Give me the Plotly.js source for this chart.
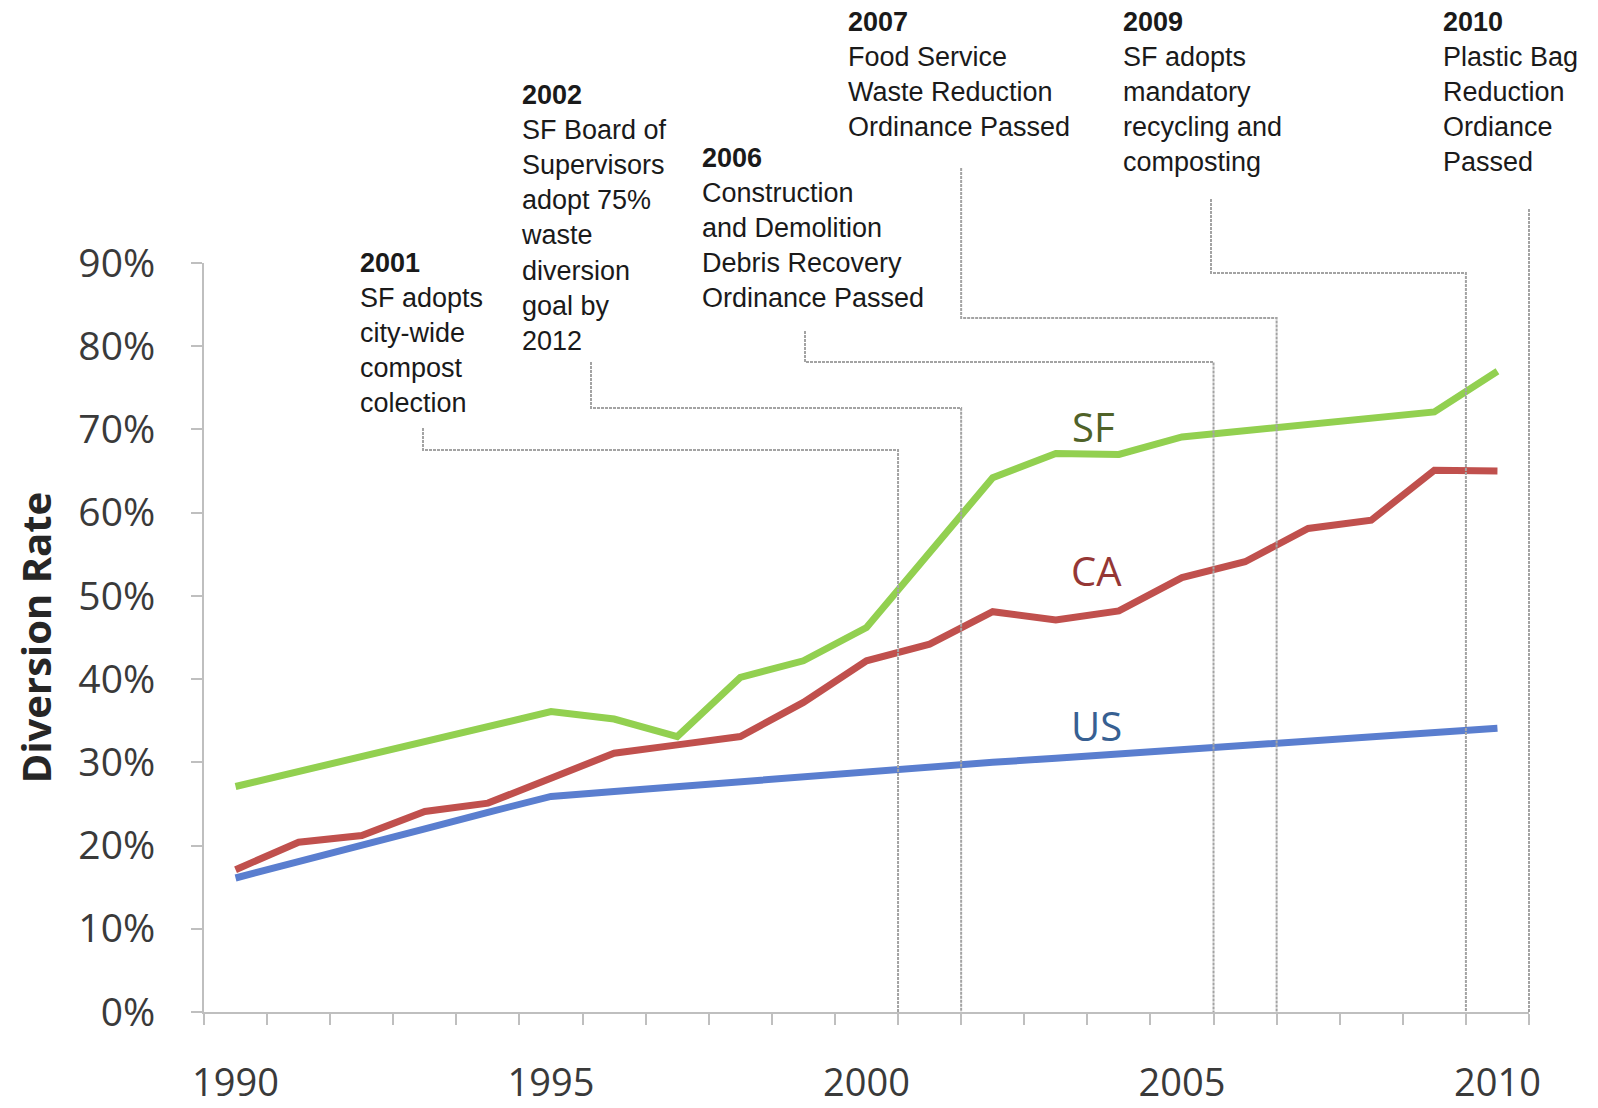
<!DOCTYPE html>
<html><head><meta charset="utf-8">
<script src="https://cdn.plot.ly/plotly-3.0.1.min.js"></script>
<style>html,body{margin:0;padding:0;background:#fff;}#chart{width:1598px;height:1108px;}</style>
</head><body><div id="chart"></div>
<script>
// ---- data ----
const years = [1990,1991,1992,1993,1994,1995,1996,1997,1998,1999,2000,2001,2002,2003,2004,2005,2006,2007,2008,2009,2010];
const sfRate = [27.1,28.9,30.7,32.5,34.3,36.1,35.2,33.1,40.2,42.2,46.2,55.1,64.2,67.1,67.0,69.1,69.9,70.5,71.3,72.1,77.0];
const caRate = [17.1,20.4,21.2,24.1,25.1,28.1,31.1,32.1,33.1,37.2,42.2,44.2,48.1,47.1,48.2,52.2,54.1,58.1,59.1,65.1,65.0];
const usRate = [16.1,18.0,20.0,22.0,24.0,25.9,26.5,27.1,27.7,28.3,29.0,29.5,30.0,30.5,31.0,31.6,32.2,32.7,33.2,33.7,34.1];
const seriesNames = ['SF','CA','US'];
const xTickLabels = ['1990','1995','2000','2005','2010'];
const xTickYears = [1990,1995,2000,2005,2010];
const eventYears = ['2001','2002','2006','2007','2009','2010'];
const eventTexts = [
  'SF adopts<br>city-wide<br>compost<br>colection',
  'SF Board of<br>Supervisors<br>adopt 75%<br>waste<br>diversion<br>goal by<br>2012',
  'Construction<br>and Demolition<br>Debris Recovery<br>Ordinance Passed',
  'Food Service<br>Waste Reduction<br>Ordinance Passed',
  'SF adopts<br>mandatory<br>recycling and<br>composting',
  'Plastic Bag<br>Reduction<br>Ordiance<br>Passed'
];
// year boundary where each event's leader line meets the axis
const eventBoundary = [2000.5, 2001.5, 2005.5, 2006.5, 2009.5, 2010.5];

// ---- layout geometry (pixels) ----
const W = 1598, H = 1108;
const M = {l: 204, r: W - 1529, t: 263, b: H - 1012};
const plotW = W - M.l - M.r, plotH = H - M.t - M.b;
const X0 = 1989.5, X1 = 2010.5;
const px2x = px => (px - M.l) / plotW;
const py2y = py => (H - M.b - py) / plotH;
const yr2x = yr => (yr - X0) / (X1 - X0);

// text block positions: [left px, top px]
const textPos = [[358, 246], [519, 78], [700, 141], [846, 5], [1121, 5], [1441, 5]];
// leader lines: start x (px, or yr = year boundary), start y px, elbow y px
const leaders = [
  {x: 423, y0: 428, y1: 450},
  {x: 591, y0: 362, y1: 408},
  {x: 805, y0: 331, y1: 362},
  {yr: 2001.5, y0: 168, y1: 318},
  {x: 1211, y0: 199, y1: 273},
  {yr: 2010.5, y0: 209, y1: null}
];

const lineColors = ['#92d050', '#c0504d', '#5a7ecf'];
const labelColors = ['#4f6228', '#953735', '#376092'];
const seriesVals = [sfRate, caRate, usRate];

const traces = seriesNames.map((n, i) => ({
  x: years, y: seriesVals[i], name: n, type: 'scatter', mode: 'lines',
  line: {color: lineColors[i], width: 7}, hoverinfo: 'x+y+name'
}));

const annotations = [];
eventYears.forEach((yr, i) => {
  annotations.push({
    xref: 'paper', yref: 'paper', x: px2x(textPos[i][0]), y: py2y(textPos[i][1]),
    xanchor: 'left', yanchor: 'top', align: 'left', showarrow: false,
    text: '<b>' + yr + '</b><br>' + eventTexts[i],
    font: {family: 'Liberation Sans, Arial, sans-serif', size: 27, color: '#1a1a1a'}
  });
});
// series labels
const labelPos = [[2003.6, 70.4], [2003.65, 53.0], [2003.65, 34.4]];
seriesNames.forEach((n, i) => {
  annotations.push({
    xref: 'x', yref: 'y', x: labelPos[i][0], y: labelPos[i][1], showarrow: false,
    text: n, font: {family: 'Open Sans, sans-serif', size: 40, color: labelColors[i]}
  });
});

const shapes = leaders.map((ld, i) => {
  const bx = yr2x(eventBoundary[i]);
  const sx = (ld.yr !== undefined) ? yr2x(ld.yr) : px2x(ld.x);
  let path;
  if (ld.y1 === null) {
    path = `M ${bx},${py2y(ld.y0)} L ${bx},0`;
  } else {
    path = `M ${sx},${py2y(ld.y0)} L ${sx},${py2y(ld.y1)} L ${bx},${py2y(ld.y1)} L ${bx},0`;
  }
  return {type: 'path', xref: 'paper', yref: 'paper', path: path, layer: 'above',
          line: {color: '#a3a3a3', width: 2, dash: '3px,1px'}};
});

const layout = {
  width: W, height: H, margin: M, showlegend: false,
  paper_bgcolor: '#ffffff', plot_bgcolor: '#ffffff',
  font: {family: 'Open Sans, sans-serif', color: '#404040'},
  xaxis: {
    range: [X0, X1], tickvals: xTickYears, ticktext: xTickLabels, ticks: '',
    showgrid: false, zeroline: false, showline: true, linecolor: '#bfbfbf', linewidth: 2,
    tickfont: {size: 38, color: '#3a3a3a'}, ticklabelstandoff: 36,
    minor: {tick0: 1989.5, dtick: 1, ticks: 'outside', ticklen: 11, tickwidth: 2, tickcolor: '#bfbfbf', showgrid: false}
  },
  yaxis: {
    range: [0, 90], dtick: 10, ticksuffix: '%', ticks: 'outside', ticklen: 11, tickwidth: 2,
    tickcolor: '#bfbfbf', showgrid: false, zeroline: false, showline: true,
    linecolor: '#bfbfbf', linewidth: 2,
    tickfont: {size: 39, color: '#3a3a3a'}, ticklabelstandoff: 28,
    title: {text: '<b>Diversion Rate</b>', font: {size: 40, color: '#262626'}, standoff: 14}
  },
  annotations: annotations, shapes: shapes
};
Plotly.newPlot('chart', traces, layout, {displayModeBar: false, staticPlot: true});
</script></body></html>
